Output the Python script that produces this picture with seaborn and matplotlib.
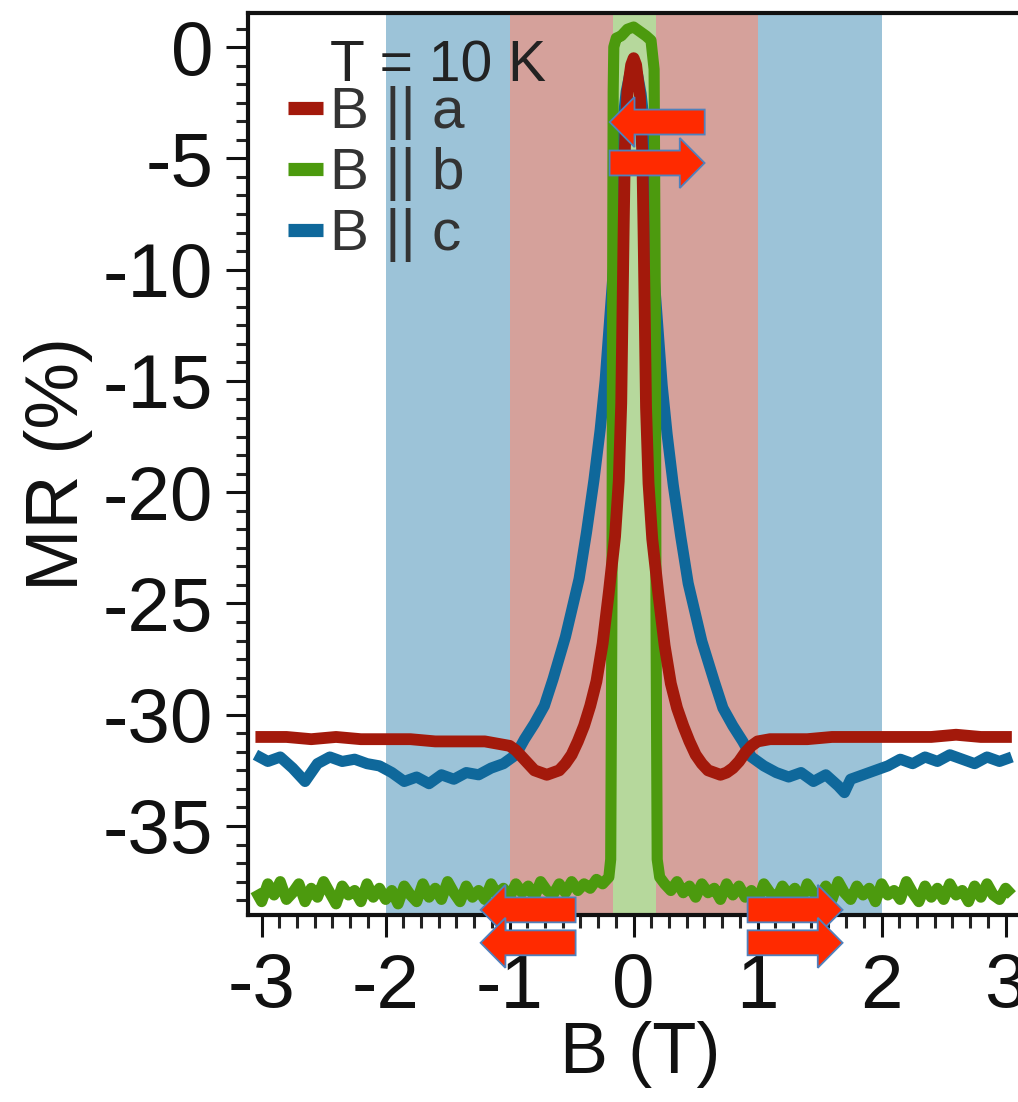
import numpy as np
import pandas as pd
import matplotlib
matplotlib.use("Agg")
import matplotlib.pyplot as plt
import seaborn as sns
from matplotlib.ticker import AutoMinorLocator
from matplotlib.lines import Line2D
from matplotlib.patches import FancyArrow

# ---------------- data ----------------
labels = ["B || a", "B || b", "B || c"]
colors = {"B || a": "#a3190b", "B || b": "#4c9a0e", "B || c": "#0f689b"}

# B || a  (red)
B_a = [-3.05, -2.8, -2.6, -2.4, -2.2, -2.0, -1.8, -1.6, -1.4, -1.2, -1.1, -1.0,
       -0.95, -0.9, -0.85, -0.8, -0.75, -0.7, -0.65, -0.6, -0.55, -0.5, -0.45,
       -0.4, -0.35, -0.3, -0.25, -0.2, -0.15, -0.12, -0.1, -0.09, -0.08, -0.07,
       -0.05, -0.02, 0.0,
       0.02, 0.05, 0.07, 0.08, 0.09, 0.1, 0.12, 0.15, 0.2, 0.25, 0.3, 0.35, 0.4,
       0.45, 0.5, 0.55, 0.6, 0.65, 0.7, 0.75, 0.8, 0.85, 0.9, 0.95, 1.0, 1.1,
       1.2, 1.4, 1.6, 1.8, 2.0, 2.2, 2.4, 2.6, 2.8, 3.05]
MR_a = [-31.0, -31.0, -31.1, -31.0, -31.1, -31.1, -31.1, -31.2, -31.2, -31.2,
        -31.3, -31.4, -31.6, -31.9, -32.2, -32.5, -32.6, -32.7, -32.6, -32.5,
        -32.2, -31.8, -31.2, -30.5, -29.6, -28.5, -26.8, -24.5, -22.0, -19.5,
        -16.0, -12.0, -8.0, -4.5, -2.0, -0.8, -0.5,
        -0.8, -2.2, -4.8, -8.3, -12.2, -16.2, -19.6, -22.1, -24.6, -26.9, -28.6,
        -29.7, -30.5, -31.2, -31.8, -32.2, -32.5, -32.6, -32.7, -32.6, -32.4,
        -32.1, -31.7, -31.4, -31.2, -31.1, -31.1, -31.1, -31.0, -31.0, -31.0,
        -31.0, -31.0, -30.9, -31.0, -31.0]

# B || b  (green)
B_b = [-3.05, -3.0, -2.95, -2.9, -2.85, -2.8, -2.75, -2.7, -2.65, -2.6, -2.55,
       -2.5, -2.45, -2.4, -2.35, -2.3, -2.25, -2.2, -2.15, -2.1, -2.05, -2.0,
       -1.95, -1.9, -1.85, -1.8, -1.75, -1.7, -1.65, -1.6, -1.55, -1.5, -1.45,
       -1.4, -1.35, -1.3, -1.25, -1.2, -1.15, -1.1, -1.05, -1.0, -0.95, -0.9,
       -0.85, -0.8, -0.75, -0.7, -0.65, -0.6, -0.55, -0.5, -0.45, -0.4, -0.35,
       -0.3, -0.25, -0.2,
       -0.185, -0.175, -0.17, -0.165, -0.16, -0.14, -0.1, -0.05, 0.0, 0.05,
       0.1, 0.14, 0.165, 0.175, 0.18, 0.19, 0.21,
       0.25, 0.3, 0.35, 0.4, 0.45, 0.5, 0.55, 0.6, 0.65, 0.7, 0.75, 0.8, 0.85,
       0.9, 0.95, 1.0, 1.05, 1.1, 1.15, 1.2, 1.25, 1.3, 1.35, 1.4, 1.45, 1.5,
       1.55, 1.6, 1.65, 1.7, 1.75, 1.8, 1.85, 1.9, 1.95, 2.0, 2.05, 2.1, 2.15,
       2.2, 2.25, 2.3, 2.35, 2.4, 2.45, 2.5, 2.55, 2.6, 2.65, 2.7, 2.75, 2.8,
       2.85, 2.9, 2.95, 3.0, 3.05]
MR_b = [-37.9, -38.4, -37.6, -38.1, -37.5, -38.3, -38.0, -37.6, -38.4, -37.8,
        -38.2, -37.5, -38.0, -38.5, -37.7, -38.1, -37.9, -38.4, -37.6, -38.2,
        -37.8, -38.3, -37.9, -38.5, -37.7, -38.1, -38.4, -37.6, -38.2, -37.8,
        -38.3, -37.5, -38.0, -38.4, -37.7, -38.2, -37.9, -38.3, -37.6, -38.1,
        -37.8, -38.2, -37.6, -38.0, -37.7, -38.2, -37.5, -37.9, -38.1, -37.6,
        -38.0, -37.5, -37.9, -37.6, -37.8, -37.4, -37.6, -37.3,
        -36.5, -25.0, -12.0, -2.0, 0.0, 0.4, 0.5, 0.8, 0.9, 0.7,
        0.5, 0.3, -1.0, -12.0, -25.0, -36.5, -37.3,
        -37.6, -37.9, -37.5, -38.0, -37.7, -38.2, -37.6, -38.0, -37.8, -38.3,
        -37.6, -38.1, -37.7, -38.2, -37.9, -38.4, -37.6, -38.0, -38.3, -37.7,
        -38.1, -37.8, -38.4, -37.6, -38.0, -38.2, -37.7, -38.3, -37.5, -38.0,
        -38.3, -37.7, -38.1, -37.8, -38.4, -37.6, -38.1, -37.9, -38.3, -37.5,
        -38.0, -38.4, -37.7, -38.2, -37.8, -38.3, -37.6, -38.1, -37.9, -38.4,
        -37.7, -38.2, -37.6, -38.1, -38.3, -37.8, -38.1]

# B || c  (blue)
B_c = [-3.05, -2.95, -2.85, -2.75, -2.65, -2.55, -2.45, -2.35, -2.25, -2.15,
       -2.05, -1.95, -1.85, -1.75, -1.65, -1.55, -1.45, -1.35, -1.25, -1.15,
       -1.05, -0.95, -0.88, -0.8, -0.72, -0.65, -0.55, -0.44, -0.38, -0.32,
       -0.27, -0.23, -0.19, -0.15, -0.12, -0.09, -0.06, -0.03, 0.0,
       0.03, 0.06, 0.09, 0.12, 0.15, 0.19, 0.23, 0.27, 0.32, 0.38, 0.44, 0.55,
       0.65, 0.72, 0.8, 0.88, 0.95, 1.05, 1.15, 1.25, 1.35, 1.45, 1.55, 1.65,
       1.7, 1.75, 1.85, 1.95, 2.05, 2.15, 2.25, 2.35, 2.45, 2.55, 2.65, 2.75,
       2.85, 2.95, 3.05]
MR_c = [-31.8, -32.1, -31.9, -32.4, -33.0, -32.2, -31.9, -32.1, -32.0, -32.2,
        -32.3, -32.6, -33.0, -32.8, -33.1, -32.7, -32.9, -32.6, -32.7, -32.4,
        -32.2, -31.8, -31.1, -30.4, -29.6, -28.4, -26.5, -23.9, -21.8, -19.45,
        -17.2, -15.0, -12.0, -9.0, -6.0, -3.5, -2.0, -1.2, -1.0,
        -1.2, -2.1, -3.6, -6.2, -9.2, -12.2, -15.2, -17.4, -19.7, -22.0, -24.1,
        -26.7, -28.5, -29.7, -30.5, -31.2, -31.9, -32.3, -32.6, -32.8, -32.6,
        -33.0, -32.7, -33.2, -33.5, -32.9, -32.7, -32.5, -32.3, -32.0, -32.2,
        -31.9, -32.1, -31.8, -32.0, -32.2, -31.9, -32.1, -31.9]

# shaded field ranges (T)
band_blue = [(-2.0, -1.0), (1.0, 2.0)]
band_red = [(-1.0, 1.0)]
band_green = [(-0.17, 0.18)]

x_ticks = [-3, -2, -1, 0, 1, 2, 3]
y_ticks = [0, -5, -10, -15, -20, -25, -30, -35]

# ---------------- style ----------------
sns.set_theme(style="ticks")
plt.rcParams["font.family"] = ["Liberation Sans", "DejaVu Sans"]
plt.rcParams["axes.unicode_minus"] = False

W, H = 1018, 1102
fig = plt.figure(figsize=(W / 100, H / 100), dpi=100)
ax = fig.add_axes([248 / W, 1 - 915 / H, 775 / W, 902 / H])

for lo, hi in band_blue:
    ax.axvspan(lo, hi, color="#9cc3d8", lw=0, zorder=0)
for lo, hi in band_red:
    ax.axvspan(lo, hi, color="#d5a19b", lw=0, zorder=0)
for lo, hi in band_green:
    ax.axvspan(lo, hi, color="#b6d89c", lw=0, zorder=0.5)

df = pd.concat([
    pd.DataFrame({"B": B_c, "MR": MR_c, "dir": "B || c"}),
    pd.DataFrame({"B": B_b, "MR": MR_b, "dir": "B || b"}),
    pd.DataFrame({"B": B_a, "MR": MR_a, "dir": "B || a"}),
], ignore_index=True)

lws = {"B || a": 8.5, "B || b": 8.0, "B || c": 8.0}
for name in ["B || c", "B || b", "B || a"]:
    sub = df[df["dir"] == name]
    sns.lineplot(data=sub, x="B", y="MR", color=colors[name], lw=lws[name],
                 sort=False, estimator=None, legend=False, ax=ax,
                 solid_joinstyle="round", solid_capstyle="butt", zorder=2)

ax.set_xlim(-3.11, 3.14)
ax.set_ylim(-39.0, 1.53)
ax.set_xticks(x_ticks)
ax.set_yticks(y_ticks)
ax.xaxis.set_minor_locator(AutoMinorLocator(7))
ax.yaxis.set_minor_locator(AutoMinorLocator(6))
ax.tick_params(axis="both", which="major", direction="out", length=16, width=2.2,
               color="#111111", labelsize=55, labelcolor="#111111")
ax.tick_params(axis="both", which="minor", direction="out", length=9, width=2.2,
               color="#222222")
ax.tick_params(axis="y", which="major", pad=9)
ax.tick_params(axis="x", which="major", pad=11)
for s in ["left", "top", "bottom"]:
    ax.spines[s].set_linewidth(3)
    ax.spines[s].set_color("#111111")
ax.spines["right"].set_visible(False)

ax.set_xlabel("B (T)", fontsize=52, color="#111111")
ax.set_ylabel("MR (%)", fontsize=54, color="#111111")
ax.xaxis.set_label_coords(0.506, -0.117)
ax.yaxis.set_label_coords(-0.20, 0.5)

# legend
handles = [Line2D([], [], color=colors[n], lw=9.5, solid_capstyle="butt") for n in labels]
leg = ax.legend(handles, labels, loc="upper left",
                bbox_to_anchor=(288 / W, 1 - 86 / H), bbox_transform=fig.transFigure,
                frameon=False, fontsize=42, handlelength=0.6, handletextpad=0.12,
                labelspacing=0.12, borderpad=0, borderaxespad=0, labelcolor="#333333")
fig.text(330 / W, 1 - 81 / H, "T = 10 K", fontsize=41, color="#222222",
         ha="left", va="baseline")

# field-sweep arrows (annotation)
arrows = [
    (0.573, -3.37, -0.766),
    (-0.194, -5.21, 0.766),
    (-0.468, -38.77, -0.766),
    (-0.468, -40.25, -0.766),
    (0.919, -38.77, 0.766),
    (0.919, -40.25, 0.766),
]
for x0, y0, dx in arrows:
    ar = FancyArrow(x0, y0, dx, 0, width=1.12, head_width=2.25, head_length=0.2,
                    length_includes_head=True, facecolor="#ff2a00",
                    edgecolor="#4f81bd", lw=1.3, clip_on=False, zorder=5)
    ax.add_patch(ar)

fig.savefig("out.png", dpi=100)
